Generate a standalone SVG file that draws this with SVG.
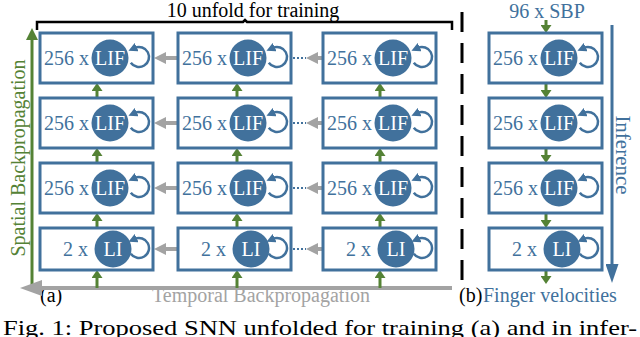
<svg xmlns="http://www.w3.org/2000/svg" width="640" height="337" viewBox="0 0 640 337" font-family="'Liberation Serif', 'Times New Roman', Tinos, serif">
<style>
text{font-family:'Liberation Serif','Times New Roman',Tinos,serif;font-size:20px}
.box{fill:#fff;stroke:#41719c;stroke-width:3}
.cir{fill:#41719c}
.lbl{fill:#41719c}
.in{fill:#fff;text-anchor:middle}
.loop{fill:none;stroke:#41719c;stroke-width:2.5;marker-end:url(#mLoop)}
.g{stroke:#548235;stroke-width:3;fill:none;marker-end:url(#mGreen)}
.gr{stroke:#a3a3a3;stroke-width:4;fill:none;marker-end:url(#mGrey)}
.dots{stroke:#41719c;stroke-width:2;stroke-dasharray:2 2}
</style>
<defs>
<marker id="mLoop" markerUnits="userSpaceOnUse" markerWidth="9" markerHeight="9" refX="2" refY="4.5" orient="auto"><path d="M0,0 L9,4.5 L0,9 z" fill="#41719c"/></marker>
<marker id="mGreen" markerUnits="userSpaceOnUse" markerWidth="8" markerHeight="11" refX="0" refY="5.5" orient="auto"><path d="M0,0 L8,5.5 L0,11 z" fill="#548235"/></marker>
<marker id="mGreenBig" markerUnits="userSpaceOnUse" markerWidth="12" markerHeight="12" refX="0" refY="6" orient="auto"><path d="M0,0 L12,6 L0,12 z" fill="#548235"/></marker>
<marker id="mGrey" markerUnits="userSpaceOnUse" markerWidth="12" markerHeight="12" refX="0" refY="6" orient="auto"><path d="M0,0 L12,6 L0,12 z" fill="#a3a3a3"/></marker>
<marker id="mGreyBig" markerUnits="userSpaceOnUse" markerWidth="22" markerHeight="16" refX="0" refY="8" orient="auto"><path d="M0,0 L22,8 L0,16 z" fill="#a3a3a3"/></marker>
<marker id="mBlueBig" markerUnits="userSpaceOnUse" markerWidth="19" markerHeight="13" refX="0" refY="6.5" orient="auto"><path d="M0,0 L19,6.5 L0,13 z" fill="#41719c"/></marker>
</defs>

<!-- titles and annotations -->
<g id="annotations">
<text x="253" y="17" text-anchor="middle" fill="#000">10 unfold for training</text>
<path d="M37,30 V22 H243 L245,20 L247,22 H452 V30" fill="none" stroke="#000" stroke-width="2.5"/>
<line x1="462" y1="12" x2="462" y2="282" stroke="#000" stroke-width="3" stroke-dasharray="20 11"/>
<text x="547" y="18" text-anchor="middle" class="lbl">96 x SBP</text>
<text transform="translate(25,158) rotate(-90)" text-anchor="middle" fill="#548235">Spatial Backpropagation</text>
<text transform="translate(616,155) rotate(90)" text-anchor="middle" class="lbl" style="font-size:21px">Inference</text>
<text x="40" y="302" fill="#000">(a)</text>
<text x="261" y="302" text-anchor="middle" fill="#a3a3a3">Temporal Backpropagation</text>
<text x="459" y="302" fill="#000">(b)</text>
<text x="483" y="302" class="lbl">Finger velocities</text>
<text x="3" y="335" fill="#000" style="font-size:21px" textLength="634" lengthAdjust="spacingAndGlyphs">Fig. 1: Proposed SNN unfolded for training (a) and in infer-</text>
</g>

<!-- connectors -->
<g id="connectors">
<line x1="32" y1="290" x2="32" y2="40" stroke="#548235" stroke-width="3" marker-end="url(#mGreenBig)"/>
<line x1="452" y1="288" x2="42" y2="288" stroke="#a3a3a3" stroke-width="4" marker-end="url(#mGreyBig)"/>
<line x1="612" y1="25" x2="612" y2="264" stroke="#41719c" stroke-width="3" marker-end="url(#mBlueBig)"/>
<line class="gr" x1="178" y1="58" x2="166" y2="58"/>
<line class="gr" x1="178" y1="123" x2="166" y2="123"/>
<line class="gr" x1="178" y1="188" x2="166" y2="188"/>
<line class="gr" x1="178" y1="249" x2="166" y2="249"/>
<line class="gr" x1="323" y1="58" x2="318" y2="58"/>
<line class="gr" x1="323" y1="123" x2="318" y2="123"/>
<line class="gr" x1="323" y1="188" x2="318" y2="188"/>
<line class="gr" x1="323" y1="249" x2="318" y2="249"/>
<line class="dots" x1="293" y1="58" x2="306" y2="58"/>
<line class="dots" x1="293" y1="123" x2="306" y2="123"/>
<line class="dots" x1="293" y1="188" x2="306" y2="188"/>
<line class="dots" x1="293" y1="249" x2="306" y2="249"/>
<line class="g" x1="97" y1="98" x2="97" y2="91"/>
<line class="g" x1="97" y1="163" x2="97" y2="156"/>
<line class="g" x1="97" y1="228" x2="97" y2="221"/>
<line class="g" x1="97" y1="288" x2="97" y2="278"/>
<line class="g" x1="237" y1="98" x2="237" y2="91"/>
<line class="g" x1="237" y1="163" x2="237" y2="156"/>
<line class="g" x1="237" y1="228" x2="237" y2="221"/>
<line class="g" x1="237" y1="288" x2="237" y2="278"/>
<line class="g" x1="380" y1="98" x2="380" y2="91"/>
<line class="g" x1="380" y1="163" x2="380" y2="156"/>
<line class="g" x1="380" y1="228" x2="380" y2="221"/>
<line class="g" x1="380" y1="288" x2="380" y2="278"/>
<line class="g" x1="546" y1="20" x2="546" y2="25"/>
<line class="g" x1="546" y1="83" x2="546" y2="90"/>
<line class="g" x1="546" y1="148" x2="546" y2="155"/>
<line class="g" x1="546" y1="213" x2="546" y2="220"/>
<line class="g" x1="546" y1="270" x2="546" y2="276"/>
</g>

<g id="a1-r1"><rect class="box" x="40" y="33" width="113" height="50"/><text class="lbl" x="44" y="65">256 x</text><path class="loop" d="M130.8,62.7 A10,10 0 1 0 134.8,47.9"/><circle class="cir" cx="110" cy="58" r="18.5"/><text class="in" x="110" y="65">LIF</text></g>
<g id="a1-r2"><rect class="box" x="40" y="98" width="113" height="50"/><text class="lbl" x="44" y="130">256 x</text><path class="loop" d="M130.8,127.7 A10,10 0 1 0 134.8,112.9"/><circle class="cir" cx="110" cy="123" r="18.5"/><text class="in" x="110" y="130">LIF</text></g>
<g id="a1-r3"><rect class="box" x="40" y="163" width="113" height="50"/><text class="lbl" x="44" y="195">256 x</text><path class="loop" d="M130.8,192.7 A10,10 0 1 0 134.8,177.9"/><circle class="cir" cx="110" cy="188" r="18.5"/><text class="in" x="110" y="195">LIF</text></g>
<g id="a1-r4"><rect class="box" x="40" y="228" width="113" height="42"/><text class="lbl" x="63" y="256">2 x</text><path class="loop" d="M130.8,253.7 A10,10 0 1 0 134.8,238.9"/><circle class="cir" cx="113" cy="249" r="18.5"/><text class="in" x="113" y="256">LI</text></g>

<g id="a2-r1"><rect class="box" x="178" y="33" width="113" height="50"/><text class="lbl" x="182" y="65">256 x</text><path class="loop" d="M268.8,62.7 A10,10 0 1 0 272.8,47.9"/><circle class="cir" cx="248" cy="58" r="18.5"/><text class="in" x="248" y="65">LIF</text></g>
<g id="a2-r2"><rect class="box" x="178" y="98" width="113" height="50"/><text class="lbl" x="182" y="130">256 x</text><path class="loop" d="M268.8,127.7 A10,10 0 1 0 272.8,112.9"/><circle class="cir" cx="248" cy="123" r="18.5"/><text class="in" x="248" y="130">LIF</text></g>
<g id="a2-r3"><rect class="box" x="178" y="163" width="113" height="50"/><text class="lbl" x="182" y="195">256 x</text><path class="loop" d="M268.8,192.7 A10,10 0 1 0 272.8,177.9"/><circle class="cir" cx="248" cy="188" r="18.5"/><text class="in" x="248" y="195">LIF</text></g>
<g id="a2-r4"><rect class="box" x="178" y="228" width="113" height="42"/><text class="lbl" x="201" y="256">2 x</text><path class="loop" d="M268.8,253.7 A10,10 0 1 0 272.8,238.9"/><circle class="cir" cx="251" cy="249" r="18.5"/><text class="in" x="251" y="256">LI</text></g>

<g id="a3-r1"><rect class="box" x="323" y="33" width="113" height="50"/><text class="lbl" x="327" y="65">256 x</text><path class="loop" d="M413.8,62.7 A10,10 0 1 0 417.8,47.9"/><circle class="cir" cx="393" cy="58" r="18.5"/><text class="in" x="393" y="65">LIF</text></g>
<g id="a3-r2"><rect class="box" x="323" y="98" width="113" height="50"/><text class="lbl" x="327" y="130">256 x</text><path class="loop" d="M413.8,127.7 A10,10 0 1 0 417.8,112.9"/><circle class="cir" cx="393" cy="123" r="18.5"/><text class="in" x="393" y="130">LIF</text></g>
<g id="a3-r3"><rect class="box" x="323" y="163" width="113" height="50"/><text class="lbl" x="327" y="195">256 x</text><path class="loop" d="M413.8,192.7 A10,10 0 1 0 417.8,177.9"/><circle class="cir" cx="393" cy="188" r="18.5"/><text class="in" x="393" y="195">LIF</text></g>
<g id="a3-r4"><rect class="box" x="323" y="228" width="113" height="42"/><text class="lbl" x="346" y="256">2 x</text><path class="loop" d="M413.8,253.7 A10,10 0 1 0 417.8,238.9"/><circle class="cir" cx="396" cy="249" r="18.5"/><text class="in" x="396" y="256">LI</text></g>

<g id="b-r1"><rect class="box" x="489" y="33" width="113" height="50"/><text class="lbl" x="493" y="65">256 x</text><path class="loop" d="M579.8,62.7 A10,10 0 1 0 583.8,47.9"/><circle class="cir" cx="559" cy="58" r="18.5"/><text class="in" x="559" y="65">LIF</text></g>
<g id="b-r2"><rect class="box" x="489" y="98" width="113" height="50"/><text class="lbl" x="493" y="130">256 x</text><path class="loop" d="M579.8,127.7 A10,10 0 1 0 583.8,112.9"/><circle class="cir" cx="559" cy="123" r="18.5"/><text class="in" x="559" y="130">LIF</text></g>
<g id="b-r3"><rect class="box" x="489" y="163" width="113" height="50"/><text class="lbl" x="493" y="195">256 x</text><path class="loop" d="M579.8,192.7 A10,10 0 1 0 583.8,177.9"/><circle class="cir" cx="559" cy="188" r="18.5"/><text class="in" x="559" y="195">LIF</text></g>
<g id="b-r4"><rect class="box" x="489" y="228" width="113" height="42"/><text class="lbl" x="512" y="256">2 x</text><path class="loop" d="M579.8,253.7 A10,10 0 1 0 583.8,238.9"/><circle class="cir" cx="562" cy="249" r="18.5"/><text class="in" x="562" y="256">LI</text></g>
</svg>
